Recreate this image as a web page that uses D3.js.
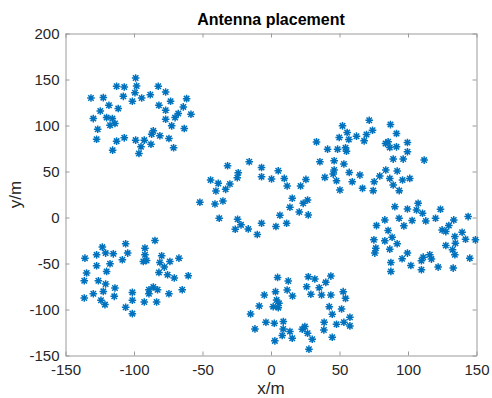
<!DOCTYPE html>
<html>
<head>
<meta charset="utf-8">
<script src="https://cdn.jsdelivr.net/npm/d3@7"></script>
<style>
  html, body { margin: 0; padding: 0; background: #fff; }
  svg { display: block; font-family: "Liberation Sans", Arial, Helvetica, sans-serif; }
</style>
</head>
<body>
<svg id="chart" width="492" height="398"></svg>
<script>
// Antenna positions (x/m, y/m), grouped by cluster
const clusterNW = [
  [-98.8,151.6],[-98.1,142.9],[-112.7,142.6],[-107.1,141.9],[-82.3,142.6],[-76.9,136.4],[-99.3,135.7],
  [-131.4,129.9],[-122.4,130.3],[-107.8,131.7],[-101.2,126.3],[-94.4,129.9],[-88.1,133.5],[-61.6,129.2],
  [-73.3,126.3],[-118.3,122.0],[-111.5,118.4],[-81.8,122.0],[-64.0,120.2],[-124.6,115.8],[-76.9,116.6],
  [-67.7,113.0],[-58.4,112.2],[-129.7,107.5],[-120.0,108.6],[-115.8,107.5],[-113.9,102.1],[-117.5,100.3],
  [-76.9,106.8],[-70.0,108.6],[-72.5,99.6],[-126.5,96.0],[-63.3,96.7],[-85.9,94.2],[-87.1,90.6],
  [-81.1,88.8],[-127.3,85.1],[-112.7,83.0],[-107.1,86.6],[-98.8,84.1],[-92.5,84.1],[-74.5,85.9],
  [-87.6,79.7],[-94.9,76.8],[-115.6,73.2],[-71.1,75.8],[-96.4,69.6]
];
const clusterSW = [
  [-84.7,-25.0],[-106.1,-28.6],[-123.1,-32.2],[-92.0,-33.3],[-127.3,-40.6],[-120.7,-38.7],[-115.1,-39.5],
  [-104.6,-38.7],[-92.0,-40.6],[-79.8,-41.6],[-135.8,-44.2],[-67.2,-44.2],[-108.5,-45.9],[-93.2,-47.8],
  [-90.8,-46.7],[-73.8,-47.8],[-81.1,-48.9],[-117.5,-50.3],[-127.3,-52.5],[-77.9,-53.9],[-120.0,-58.6],
  [-81.8,-59.7],[-134.6,-60.4],[-75.5,-62.2],[-60.4,-63.3],[-70.6,-65.8],[-126.0,-68.7],[-136.3,-68.7],
  [-120.7,-72.3],[-113.9,-76.7],[-85.9,-75.6],[-89.1,-78.5],[-82.8,-78.5],[-122.4,-80.3],[-129.7,-82.8],
  [-101.2,-81.4],[-89.1,-82.8],[-64.8,-78.5],[-74.5,-82.8],[-114.4,-85.7],[-136.3,-87.5],[-124.1,-90.0],
  [-121.2,-94.7],[-101.2,-90.0],[-92.5,-91.8],[-83.5,-91.8],[-106.1,-97.6],[-101.2,-104.5]
];
const clusterC = [
  [-15.9,60.6],[-31.7,56.3],[-6.9,54.4],[-23.9,48.7],[5.3,50.8],[-24.6,43.2],[-6.9,44.3],[0.4,41.8],
  [9.7,42.5],[-44.1,40.7],[-38.5,37.1],[-30.0,36.4],[25.5,41.4],[11.8,34.2],[21.6,34.2],[-40.2,28.8],
  [-33.1,30.6],[-51.9,16.5],[-40.9,14.7],[-35.1,18.0],[15.5,20.9],[23.5,15.4],[26.7,19.1],[13.8,11.1],
  [20.6,6.0],[27.2,2.8],[6.5,2.4],[-37.8,-0.8],[-24.4,-1.9],[-21.9,-8.0],[-26.1,-12.7],[-16.6,-12.4],
  [-6.9,-6.2],[3.6,-9.8],[11.4,-6.2],[-10.0,-18.5]
];
const clusterS = [
  [4.8,-65.1],[12.6,-69.1],[27.2,-64.4],[32.0,-66.9],[43.7,-63.7],[40.0,-70.5],[26.0,-75.2],[35.2,-76.3],
  [3.3,-80.6],[11.8,-78.8],[-4.9,-84.2],[15.7,-85.3],[29.1,-83.5],[36.9,-84.2],[43.7,-84.2],[52.7,-80.6],
  [54.4,-87.9],[4.1,-89.7],[5.8,-93.3],[1.6,-96.9],[5.3,-98.0],[-8.6,-96.2],[42.5,-96.9],[51.5,-99.4],
  [44.7,-105.2],[-14.9,-104.8],[-3.7,-113.9],[2.4,-114.9],[9.0,-113.1],[38.8,-113.9],[47.8,-116.0],
  [53.2,-113.9],[57.6,-108.4],[57.6,-117.8],[-11.7,-121.1],[8.9,-121.1],[13.8,-124.0],[22.8,-121.5],
  [24.7,-118.6],[38.6,-122.2],[26.7,-125.8],[8.2,-128.3],[15.5,-131.2],[30.1,-132.3],[44.7,-130.1],
  [2.8,-134.1],[27.7,-143.1]
];
const clusterNE = [
  [71.7,105.7],[52.2,99.6],[87.2,101.0],[55.6,92.4],[74.1,94.9],[69.7,90.2],[62.4,88.4],[49.8,87.0],
  [56.8,84.8],[91.6,91.3],[68.0,83.3],[33.2,82.2],[83.6,80.4],[85.5,82.3],[86.7,76.1],[91.6,76.8],
  [99.6,81.5],[41.3,74.3],[48.6,74.3],[54.4,75.7],[55.1,72.1],[99.6,71.4],[46.1,61.7],[35.7,60.6],
  [53.2,58.1],[89.2,63.5],[96.5,63.5],[111.8,62.4],[46.1,51.6],[45.4,47.2],[57.1,49.0],[83.8,51.6],
  [92.1,50.5],[64.9,46.1],[39.3,43.6],[47.8,40.0],[79.4,45.1],[86.7,42.5],[96.0,40.7],[101.3,42.5],
  [59.3,38.9],[75.3,38.9],[89.2,35.3],[50.3,29.9],[66.8,31.7],[74.6,29.2],[93.6,29.2]
];
const clusterE = [
  [107.4,15.4],[90.4,11.8],[99.6,9.3],[106.2,8.2],[110.6,4.6],[123.7,8.9],[93.5,-0.8],[103.0,-3.3],
  [113.0,-3.7],[120.1,-0.8],[83.1,-2.6],[77.0,-8.8],[97.0,-9.1],[133.4,-2.6],[143.9,1.0],[129.8,-8.8],
  [85.5,-14.2],[124.9,-13.5],[127.6,-15.3],[139.5,-16.0],[88.4,-21.4],[134.2,-20.7],[142.0,-23.6],
  [75.1,-24.3],[83.1,-25.4],[149.2,-24.3],[92.1,-28.6],[134.6,-27.9],[127.6,-30.4],[76.5,-33.3],
  [86.7,-34.4],[75.8,-38.7],[132.5,-35.1],[134.2,-40.5],[99.6,-38.7],[115.9,-40.5],[95.7,-44.9],
  [111.1,-43.1],[117.1,-45.2],[145.1,-44.2],[109.8,-47.0],[87.5,-48.9],[102.1,-52.1],[109.8,-56.8],
  [122.0,-53.9],[133.0,-55.0],[87.5,-58.6]
];
const xTicks = [-150, -100, -50, 0, 50, 100, 150];
const yTicks = [-150, -100, -50, 0, 50, 100, 150, 200];
const titleText = "Antenna placement";
const xLabelText = "x/m";
const yLabelText = "y/m";

const points = [].concat(clusterNW, clusterSW, clusterC, clusterS, clusterNE, clusterE);

const svg = d3.select("#chart");
const box = { left: 65.5, right: 476.5, top: 33.5, bottom: 355.5 };

const x = d3.scaleLinear().domain([-150, 150]).range([box.left, box.right]);
const y = d3.scaleLinear().domain([-150, 200]).range([box.bottom, box.top]);

const axisColor = "#9a9a9a";
const textColor = "#262626";
const tickLen = 4;
const plainNumber = d => String(d);

// white plot background
svg.append("rect")
  .attr("x", box.left).attr("y", box.top)
  .attr("width", box.right - box.left).attr("height", box.bottom - box.top)
  .attr("fill", "#fff");

// axes with inward ticks on all four sides
function styleAxis(g) {
  g.select(".domain").attr("stroke", axisColor).attr("stroke-width", 1);
  g.selectAll(".tick line").attr("stroke", axisColor).attr("stroke-width", 1);
  g.selectAll(".tick text")
    .attr("fill", textColor)
    .attr("font-size", 15)
    .attr("font-family", "Liberation Sans, Arial, sans-serif");
}

svg.append("g")
  .attr("transform", `translate(0,${box.bottom})`)
  .call(d3.axisBottom(x).tickValues(xTicks).tickFormat(plainNumber).tickSize(-tickLen).tickPadding(9).tickSizeOuter(0))
  .call(styleAxis);

svg.append("g")
  .attr("transform", `translate(0,${box.top})`)
  .call(d3.axisTop(x).tickValues(xTicks).tickSize(-tickLen).tickFormat("").tickSizeOuter(0))
  .call(styleAxis);

svg.append("g")
  .attr("transform", `translate(${box.left},0)`)
  .call(d3.axisLeft(y).tickValues(yTicks).tickFormat(plainNumber).tickSize(-tickLen).tickPadding(6).tickSizeOuter(0))
  .call(styleAxis);

svg.append("g")
  .attr("transform", `translate(${box.right},0)`)
  .call(d3.axisRight(y).tickValues(yTicks).tickSize(-tickLen).tickFormat("").tickSizeOuter(0))
  .call(styleAxis);

// asterisk markers
const r = 3.8, rd = r * 0.72;
const star = `M${-r},0L${r},0M0,${-r}L0,${r}M${-rd},${-rd}L${rd},${rd}M${-rd},${rd}L${rd},${-rd}`;
svg.append("g")
  .selectAll("path")
  .data(points)
  .join("path")
  .attr("transform", d => `translate(${x(d[0])},${y(d[1])})`)
  .attr("d", star)
  .attr("fill", "none")
  .attr("stroke", "#0072BD")
  .attr("stroke-width", 1.5);

// title and axis labels
svg.append("text")
  .attr("x", (box.left + box.right) / 2).attr("y", 25)
  .attr("text-anchor", "middle")
  .attr("font-size", 16).attr("font-weight", "bold")
  .attr("fill", "#000")
  .text(titleText);

svg.append("text")
  .attr("x", (box.left + box.right) / 2).attr("y", 394)
  .attr("text-anchor", "middle")
  .attr("font-size", 17)
  .attr("fill", textColor)
  .text(xLabelText);

svg.append("text")
  .attr("transform", `translate(21,${(box.top + box.bottom) / 2}) rotate(-90)`)
  .attr("text-anchor", "middle")
  .attr("font-size", 17)
  .attr("fill", textColor)
  .text(yLabelText);
</script>
</body>
</html>
